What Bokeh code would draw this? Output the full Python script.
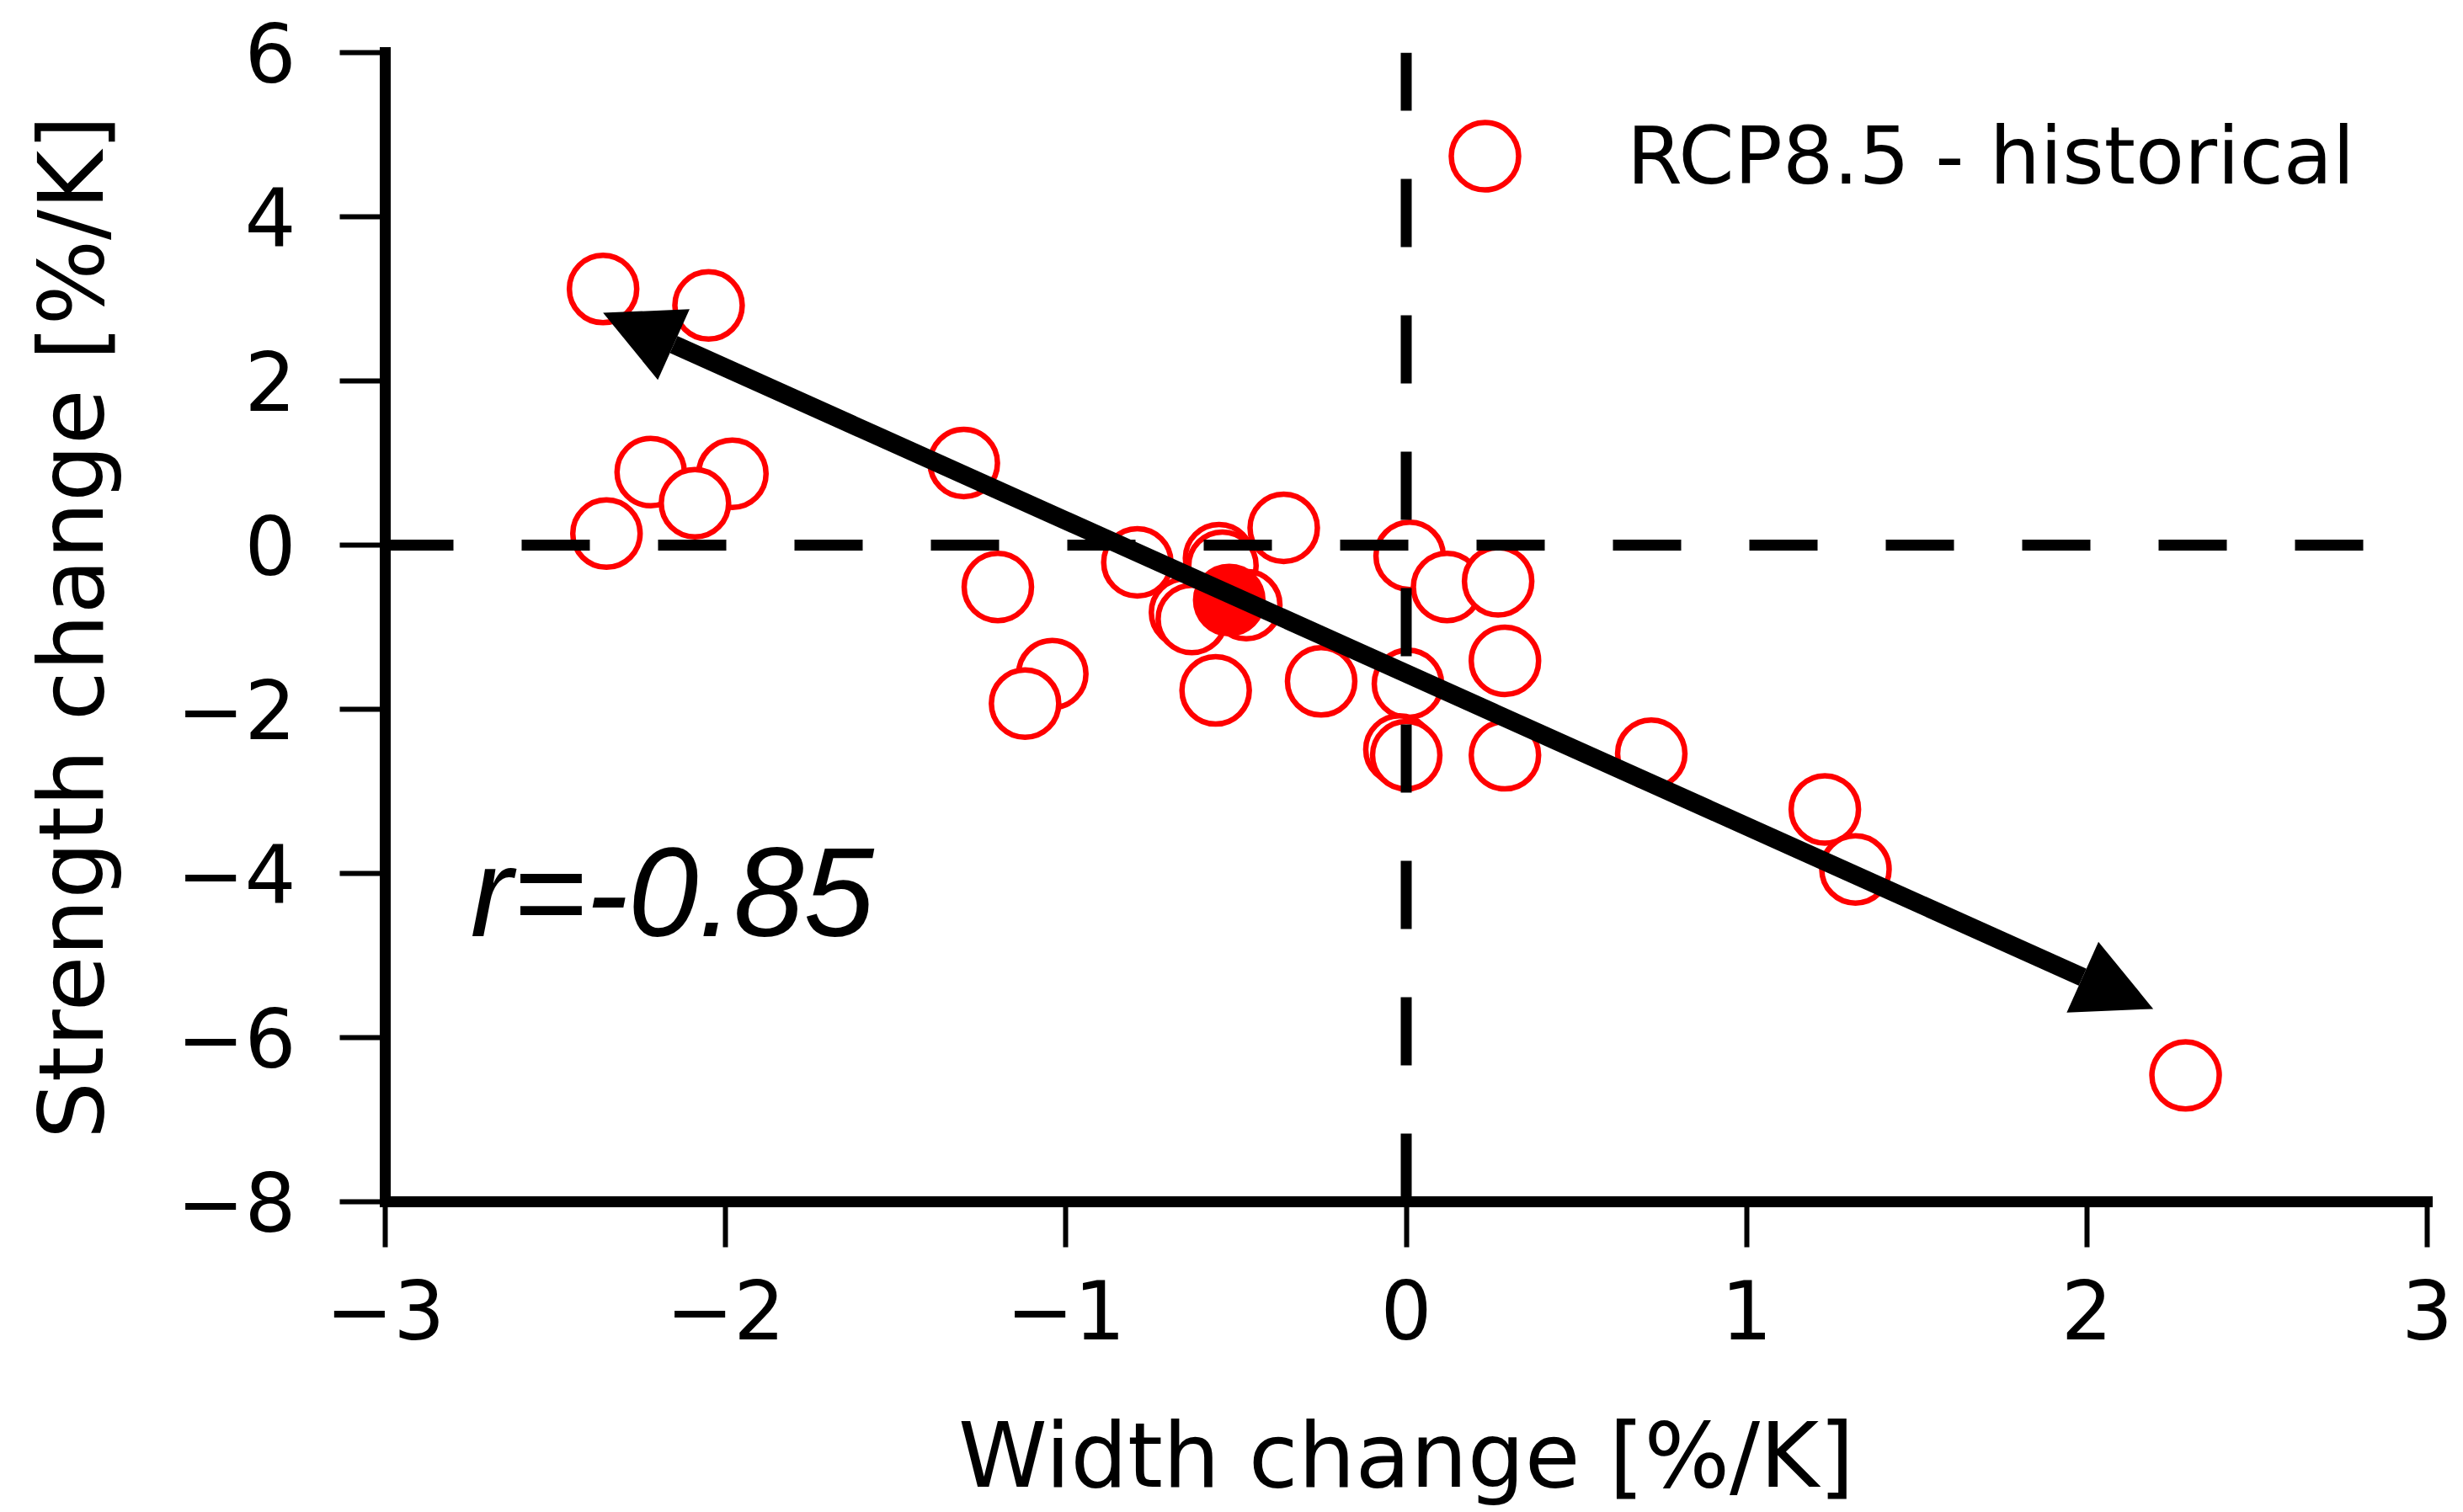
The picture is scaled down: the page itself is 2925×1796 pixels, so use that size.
from bokeh.plotting import figure
from bokeh.models import Range1d, FixedTicker, Arrow, NormalHead, Legend, LegendItem
from bokeh.core.properties import value
from bokeh.embed import file_html
from bokeh.resources import INLINE

# Per-model change in width and strength (% per K), RCP8.5 minus historical
width_change = [-2.36, -2.05, -2.22, -1.98, -2.09, -2.35, -1.30, -1.20, -1.04, -1.12,
                -0.79, -0.55, -0.54, -0.36, -0.47, -0.65, -0.63, -0.56, -0.25, 0.01,
                0.12, 0.27, 0.29, 0.005, -0.02, 0.00, 0.29, 0.72, 1.23, 1.32, 2.29]
strength_change = [3.12, 2.92, 0.89, 0.87, 0.51, 0.14, 1.00, -0.51, -1.57, -1.93,
                   -0.21, -0.16, -0.25, 0.21, -0.73, -0.82, -0.90, -1.77, -1.66, -0.13,
                   -0.51, -0.44, -1.41, -1.69, -2.49, -2.56, -2.56, -2.54, -3.22, -3.95, -6.46]

# Multi-model mean
mean_width = [-0.52]
mean_strength = [-0.67]

# Double-headed arrow along the fitted relation
fit_width = [-2.36, 2.195]
fit_strength = [2.83, -5.65]
r_label = "r=-0.85"
r_pos = (-2.75, -4.23)

series_label = "RCP8.5 - historical"
x_title = "Width change [%/K]"
y_title = "Strength change [%/K]"

x_lim = (-3, 3)
y_lim = (-8, 6)
x_ticks = [-3, -2, -1, 0, 1, 2, 3]
x_tick_labels = ["\u22123", "\u22122", "\u22121", "0", "1", "2", "3"]
y_ticks = [6, 4, 2, 0, -2, -4, -6, -8]
y_tick_labels = ["6", "4", "2", "0", "\u22122", "\u22124", "\u22126", "\u22128"]

FONT = "DejaVu Sans"
RED = "#ff0000"

p = figure(width=2925, height=1796,
           x_range=Range1d(*x_lim), y_range=Range1d(*y_lim),
           output_backend="svg", toolbar_location=None,
           min_border_left=457, min_border_right=43,
           min_border_top=62, min_border_bottom=369,
           background_fill_color="white", border_fill_color="white",
           outline_line_color=None)
p.grid.visible = False

p.xaxis.ticker = FixedTicker(ticks=x_ticks)
p.yaxis.ticker = FixedTicker(ticks=y_ticks)
p.xaxis.major_label_overrides = dict(zip(x_ticks, x_tick_labels))
p.yaxis.major_label_overrides = dict(zip(y_ticks, y_tick_labels))
p.xaxis.axis_label = x_title
p.yaxis.axis_label = y_title

for ax in (p.xaxis[0], p.yaxis[0]):
    ax.axis_line_width = 13
    ax.axis_line_color = "black"
    ax.axis_line_cap = "square"
    ax.major_tick_line_width = 6
    ax.major_tick_line_color = "black"
    ax.major_tick_out = 54
    ax.major_tick_in = 0
    ax.minor_tick_line_color = None
    ax.major_label_text_font = FONT
    ax.major_label_text_font_size = "96px"
    ax.major_label_text_color = "black"
    ax.axis_label_text_font = FONT
    ax.axis_label_text_font_size = "107px"
    ax.axis_label_text_font_style = "normal"
    ax.axis_label_text_color = "black"

p.yaxis.major_label_standoff = 52
p.xaxis.major_label_standoff = 38
p.yaxis.axis_label_standoff = 60
p.xaxis.axis_label_standoff = 73

# Model scatter (open circles) and the mean (filled)
models = p.scatter(width_change, strength_change, marker="circle", size=80,
                   fill_color="white", line_color=RED, line_width=6.5)
p.scatter(mean_width, mean_strength, marker="circle", size=80,
          fill_color=RED, line_color=RED, line_width=6.5)

# Zero reference lines
p.line([x_lim[0], x_lim[1]], [0, 0], line_color="black", line_width=13, line_dash="81 81")
p.line([0, 0], [y_lim[0], y_lim[1]], line_color="black", line_width=13, line_dash="81 81")

p.add_layout(Arrow(start=NormalHead(size=92, fill_color="black", line_color=None),
                   end=NormalHead(size=92, fill_color="black", line_color=None),
                   x_start=fit_width[0], y_start=fit_strength[0],
                   x_end=fit_width[1], y_end=fit_strength[1],
                   line_width=22, line_color="black"))

p.text(x=[r_pos[0]], y=[r_pos[1]], text=[r_label],
       text_font=value("Liberation Sans"), text_font_style="italic",
       text_font_size="150px", text_baseline="alphabetic", text_align="left",
       text_color="black")

legend = Legend(items=[LegendItem(label=series_label, renderers=[models])],
                location=(1206, 1142), glyph_width=200, glyph_height=200,
                label_standoff=69, padding=0, margin=0, spacing=0,
                border_line_color=None, background_fill_alpha=0,
                label_text_font=FONT, label_text_font_size="95px",
                label_text_color="black")
p.add_layout(legend)

open("out.html", "w").write(file_html(p, INLINE))
